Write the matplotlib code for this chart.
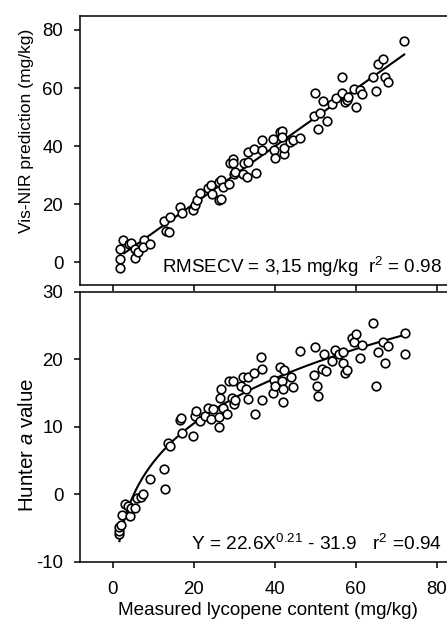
import numpy as np
import matplotlib
matplotlib.use("Agg")
import matplotlib.pyplot as plt

plt.rcParams['font.family'] = ['Liberation Sans', 'DejaVu Sans']
plt.rcParams['mathtext.fontset'] = 'custom'
plt.rcParams['mathtext.rm'] = 'Liberation Sans'
plt.rcParams['mathtext.it'] = 'Liberation Sans:italic'
plt.rcParams['axes.unicode_minus'] = False

# top panel: measured vs Vis-NIR predicted lycopene (mg/kg)
meas_top = [1.8, 1.8, 1.8, 2.5, 3.9, 4.4, 5.5, 5.5, 6.3, 7.6, 7.4, 9.2, 12.7, 13.1, 13.9, 14.2,
            16.6, 17.1, 19.9, 20.3, 20.8, 21.4, 23.4, 24.2, 24.5, 26.1, 26.1, 26.7, 26.8, 27.2,
            28.8, 29.0, 29.6, 29.6, 29.8, 30.2, 32.1, 32.3, 33.1, 33.3, 33.5, 34.8, 35.3, 36.8,
            36.9, 39.6, 39.7, 40.1, 41.4, 41.8, 41.9, 42.2, 42.3, 43.8, 44.4, 46.3, 49.6, 50.0,
            50.8, 51.2, 51.9, 52.9, 54.1, 55.2, 56.6, 56.6, 57.4, 57.8, 58.2, 59.5, 60.1, 61.1,
            61.6, 64.3, 65.1, 65.5, 66.7, 67.3, 68.0, 72.0]
pred_top = [-1.9, 1.1, 4.5, 7.7, 6.2, 6.8, 1.6, 4.5, 3.7, 7.7, 5.4, 6.3, 14.2, 10.9, 10.3, 15.7,
            19.1, 16.9, 18.0, 19.7, 21.5, 23.8, 25.5, 26.6, 23.4, 27.8, 21.5, 21.7, 28.3, 25.8,
            27.0, 34.3, 35.5, 34.3, 30.4, 31.2, 30.3, 34.3, 29.5, 34.4, 38.1, 38.9, 30.6, 38.7,
            42.1, 42.4, 38.7, 36.0, 45.0, 45.3, 43.2, 37.3, 39.3, 41.5, 42.1, 42.9, 50.4, 58.2,
            45.9, 51.5, 55.6, 48.8, 54.5, 56.7, 63.7, 58.4, 55.1, 55.9, 57.0, 59.6, 53.4, 59.3,
            58.0, 63.9, 59.1, 68.3, 69.9, 63.7, 62.0, 76.3]

# bottom panel: measured lycopene vs Hunter a value
meas_bot = [1.6, 1.6, 1.6, 2.0, 2.2, 3.0, 3.6, 4.3, 4.4, 5.5, 5.9, 6.9, 7.4, 9.2, 12.5, 12.8,
            13.7, 14.2, 16.6, 16.9, 17.1, 19.9, 20.2, 20.6, 21.4, 22.8, 23.6, 24.2, 24.7, 26.1,
            26.3, 26.5, 26.7, 27.2, 28.2, 28.6, 29.4, 29.7, 29.8, 30.2, 31.6, 32.1, 33.0, 33.3,
            33.5, 34.8, 35.2, 36.6, 36.8, 36.8, 39.6, 39.9, 40.1, 41.4, 41.8, 42.0, 42.0, 42.2,
            44.0, 44.4, 46.3, 49.8, 50.0, 50.4, 50.8, 51.7, 52.1, 52.7, 54.1, 55.0, 56.0, 56.9,
            56.9, 57.4, 57.8, 59.1, 59.7, 60.1, 61.1, 61.6, 64.3, 65.1, 65.5, 66.7, 67.3, 68.0,
            72.1, 72.1]
hunter_a = [-5.9, -5.5, -4.8, -4.5, -3.1, -1.4, -1.7, -3.2, -2.0, -2.1, -0.6, -0.4, 0.1, 2.3,
            3.8, 0.7, 7.6, 7.2, 11.0, 11.3, 9.0, 8.6, 11.6, 12.3, 10.9, 11.6, 12.8, 11.1, 12.6,
            9.9, 11.4, 14.2, 15.6, 12.7, 11.9, 16.7, 14.2, 16.7, 13.4, 14.0, 16.0, 17.4, 15.6,
            17.4, 14.1, 18.0, 11.9, 20.4, 18.5, 14.0, 15.0, 16.9, 16.0, 18.9, 16.8, 15.6, 13.6,
            18.4, 17.3, 15.9, 21.2, 17.7, 21.8, 16.0, 14.5, 18.5, 20.7, 18.3, 19.7, 21.3, 20.8,
            21.1, 19.5, 17.9, 18.4, 23.1, 22.5, 23.7, 20.2, 22.1, 25.3, 16.1, 21.1, 22.5, 19.5,
            21.9, 23.9, 20.8]

# power fit printed on the chart
fit_a, fit_b, fit_c = 22.6, 0.21, -31.9

W, H = 447, 624
fig = plt.figure(figsize=(W / 100, H / 100), dpi=100)
ax1 = fig.add_axes([80 / W, 1 - 285 / H, 376 / W, (285 - 15.7) / H])
ax2 = fig.add_axes([80 / W, 1 - 561.7 / H, 376 / W, 270 / H])

mk = dict(marker='o', linestyle='none', markersize=6.2, markerfacecolor='white',
          markeredgecolor='black', markeredgewidth=1.2)

# top
ax1.plot(meas_top, pred_top, **mk)
m, b = np.polyfit(meas_top, pred_top, 1)
xl = np.array([2.8, max(meas_top)])
ax1.plot(xl, m * xl + b, color='black', lw=1.5, zorder=1)
ax1.set_xlim(-8.15, 84.8)
ax1.set_ylim(-7.8, 84.9)
ax1.set_yticks([0, 20, 40, 60, 80])
ax1.set_xticks([0, 20, 40, 60, 80])
ax1.set_xticklabels([])
ax1.set_ylabel('Vis-NIR prediction (mg/kg)', fontsize=12.6)
ax1.yaxis.set_label_coords(-0.122, 0.574)
fig.text(442 / W, 1 - 273 / H, 'RMSECV = 3,15 mg/kg  r$^2$ = 0.98',
         ha='right', va='baseline', fontsize=13.6)

# bottom
ax2.plot(meas_bot, hunter_a, **mk)
xc = np.linspace(min(meas_bot), max(meas_bot), 200)
ax2.plot(xc, fit_a * xc ** fit_b + fit_c, color='black', lw=1.5, zorder=1)
ax2.set_xlim(-8.15, 84.8)
ax2.set_ylim(-10, 30)
ax2.set_yticks([-10, 0, 10, 20, 30])
ax2.set_xticks([0, 20, 40, 60, 80])
ax2.set_ylabel('Hunter $\\mathit{a}$ value', fontsize=14.8)
ax2.yaxis.set_label_coords(-0.114, 0.432)
ax2.set_xlabel('Measured lycopene content (mg/kg)', fontsize=13.6, labelpad=3)
fig.text(442 / W, 1 - 550 / H, 'Y = 22.6X$^{0.21}$ - 31.9   r$^2$ =0.94',
         ha='right', va='baseline', fontsize=13.8)

for ax in (ax1, ax2):
    ax.spines['right'].set_visible(False)
    for s in ('left', 'top', 'bottom'):
        ax.spines[s].set_linewidth(1.1)
    ax.tick_params(axis='y', direction='out', length=4.3, width=1.1, labelsize=13.4, pad=7.7)
    ax.tick_params(axis='x', direction='out', length=4, width=1.1, labelsize=13.4, pad=10)

fig.savefig('out.png', dpi=100)
